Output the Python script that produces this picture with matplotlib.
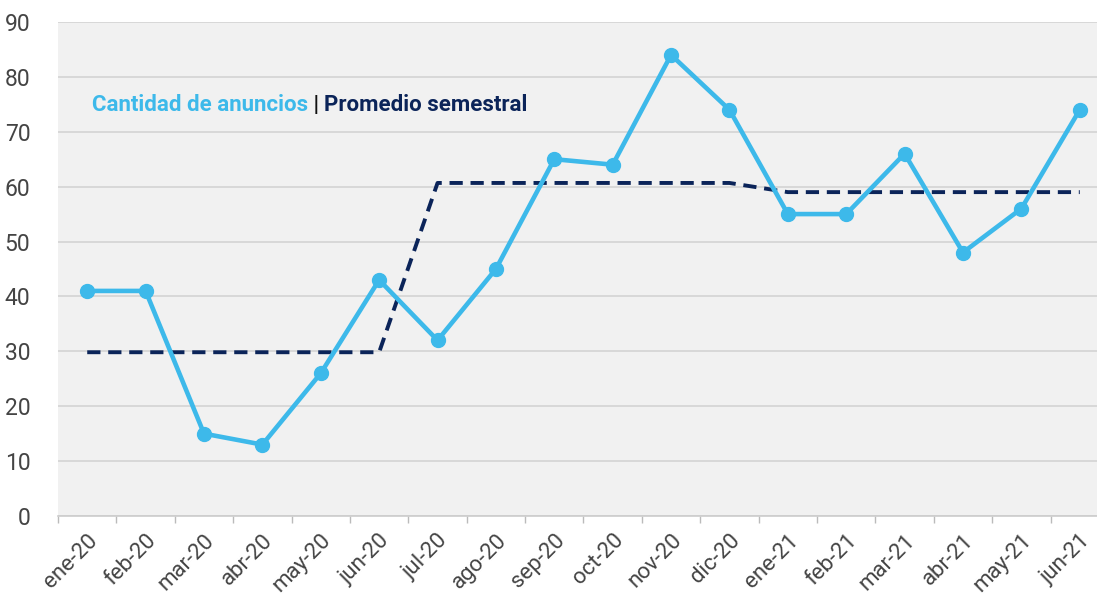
import numpy as np
from matplotlib import pyplot as plt

meses = ['ene-20', 'feb-20', 'mar-20', 'abr-20', 'may-20', 'jun-20',
         'jul-20', 'ago-20', 'sep-20', 'oct-20', 'nov-20', 'dic-20',
         'ene-21', 'feb-21', 'mar-21', 'abr-21', 'may-21', 'jun-21']
anuncios = [41, 41, 15, 13, 26, 43, 32, 45, 65, 64, 84, 74,
            55, 55, 66, 48, 56, 74]
promedio = [29.83] * 6 + [60.67] * 6 + [59.0] * 6

plt.rcParams['font.family'] = ['Roboto', 'DejaVu Sans']

azul = '#3db9ea'
marino = '#0b2459'

fig = plt.figure(figsize=(10.97, 5.95), dpi=100)
ax = fig.add_axes([0.0529, 0.1328, 0.958, 0.8303])
ax.set_facecolor('#f1f1f1')

x = np.arange(len(meses))
ax.plot(x, anuncios, color=azul, lw=3.3, marker='o', markersize=10, zorder=3)
ax.plot(x, promedio, color=marino, lw=2.8, dashes=(3.4, 2.0), zorder=2)

ax.set_xlim(-0.5, len(meses) - 0.5)
ax.set_ylim(0, 90)
ax.set_yticks(range(0, 91, 10))
ax.grid(axis='y', color='#d4d4d4', lw=1.2)
ax.set_axisbelow(True)

ax.set_xticks(x)
ax.set_xticklabels(meses, rotation=45, ha='right', rotation_mode='anchor')
ax.set_xticks(np.arange(-0.5, len(meses) - 0.5, 1), minor=True)
ax.tick_params(axis='x', which='major', length=0, pad=10, labelsize=16,
               labelcolor='#444444')
ax.tick_params(axis='x', which='minor', length=5, color='#bbbbbb', width=1)
ax.tick_params(axis='y', length=0, pad=20, labelsize=16.5, labelcolor='#444444')

for s in ['top', 'right', 'left']:
    ax.spines[s].set_visible(False)
ax.spines['bottom'].set_color('#cccccc')
ax.spines['bottom'].set_linewidth(1.2)

t1 = ax.text(0.032, 0.832, 'Cantidad de anuncios', transform=ax.transAxes,
             color=azul, fontsize=16, fontweight='bold', va='center')
t2 = ax.annotate(' | ', xy=(1, 0), xycoords=t1, color='#111111',
                 fontsize=16, fontweight='bold', va='bottom')
ax.annotate('Promedio semestral', xy=(1, 0), xycoords=t2, color=marino,
            fontsize=16, fontweight='bold', va='bottom')

plt.savefig('out.png', dpi=100)
